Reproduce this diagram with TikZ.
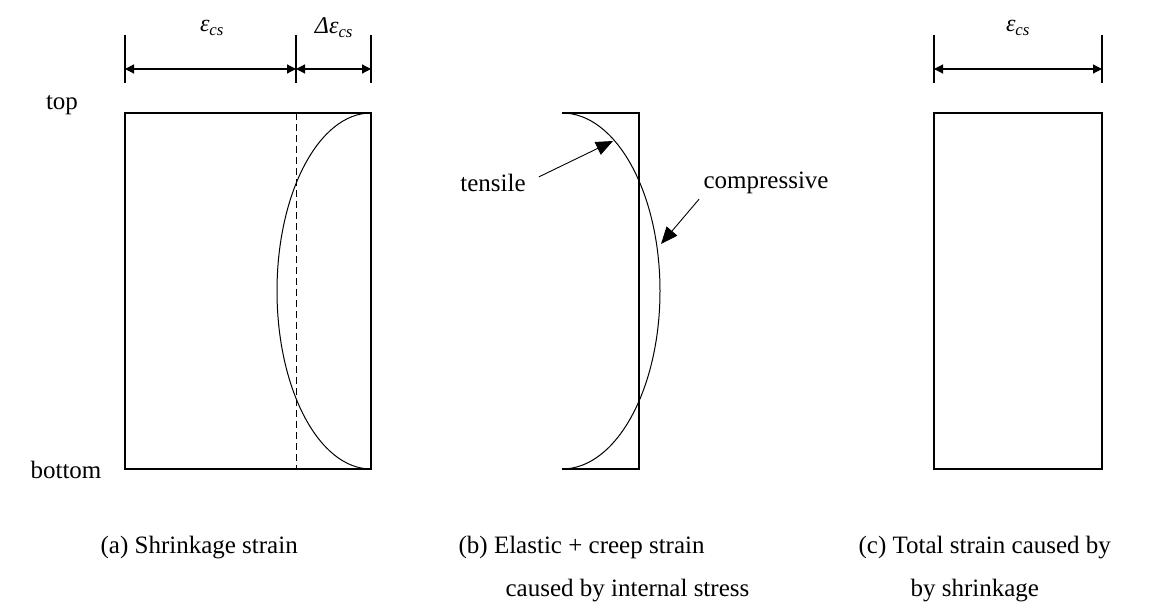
\documentclass[tikz,border=0pt]{standalone}
\usepackage{fontspec}
\setmainfont{Liberation Serif}
\usetikzlibrary{arrows.meta}

\tikzset{
    dimline/.style={{Triangle[length=9pt,width=9pt]}-{Triangle[length=9pt,width=9pt]}, line width=1.2pt},
    callout/.style={-{Triangle[length=17pt,width=14pt]}, line width=0.9pt},
    lbl/.style={font=\fontsize{25}{30}\selectfont, inner sep=0pt},
    sym/.style={font=\fontsize{24}{28}\selectfont\itshape, inner sep=0pt},
}

\begin{document}
\begin{tikzpicture}[x=1pt,y=-1pt,line width=1.2pt]
    \useasboundingbox (0,0) rectangle (1165,612);

    % (a) shrinkage strain
    \draw (125,113) rectangle (371,469);
    \draw[dash pattern=on 7pt off 4pt, line width=1pt] (296,113) -- (296,469);
    \draw[line width=1pt] (371,113) arc[start angle=270, end angle=90, x radius=94, y radius=178];

    \foreach \x in {125,296,371} \draw (\x,35) -- (\x,83);
    \coordinate (a0) at (125,69);
    \coordinate (a1) at (296,69);
    \coordinate (a2) at (371,69);
    \draw[dimline] (a0) -- (a1);
    \draw[dimline] (a1) -- (a2);
    \node[sym] (ecs) at (212,28) {ε\textsubscript{cs}};
    \node[sym] (decs) at (334,28) {Δε\textsubscript{cs}};

    \node[lbl, anchor=base] (top) at (62,110) {top};
    \node[lbl, anchor=base] (bottom) at (66,478) {bottom};

    % (b) elastic + creep
    \draw (562,113) -- (639,113) -- (639,469) -- (562,469);
    \draw[line width=1pt] (562,113) arc[start angle=270, end angle=450, x radius=98, y radius=178];

    \node[lbl] (tensile) at (493,183) {tensile};
    \coordinate (ttip) at (613,141);
    \draw[callout, shorten <=14pt] (tensile.east) -- (ttip);

    \node[lbl, anchor=west] (compr) at (703,183) {compressive};
    \coordinate (ctip) at (661,244);
    \draw[callout, shorten <=6pt] (compr.south west) -- (ctip);

    % (c) total strain
    \draw (934,113) rectangle (1102,469);
    \foreach \x in {934,1102} \draw (\x,35) -- (\x,83);
    \coordinate (c0) at (934,69);
    \coordinate (c1) at (1102,69);
    \draw[dimline] (c0) -- (c1);
    \node[sym] (ecs2) at (1018,28) {ε\textsubscript{cs}};

    % captions
    \node[lbl, anchor=base west] (capa) at (100,553) {(a) Shrinkage strain};
    \node[lbl, anchor=base west] (capb) at (458,553) {(b) Elastic + creep strain};
    \node[lbl, anchor=base west] (capb2) at (505,596) {caused by internal stress};
    \node[lbl, anchor=base west] (capc) at (858,553) {(c) Total strain caused by};
    \node[lbl, anchor=base west] (capc2) at (910,596) {by shrinkage};
\end{tikzpicture}
\end{document}
